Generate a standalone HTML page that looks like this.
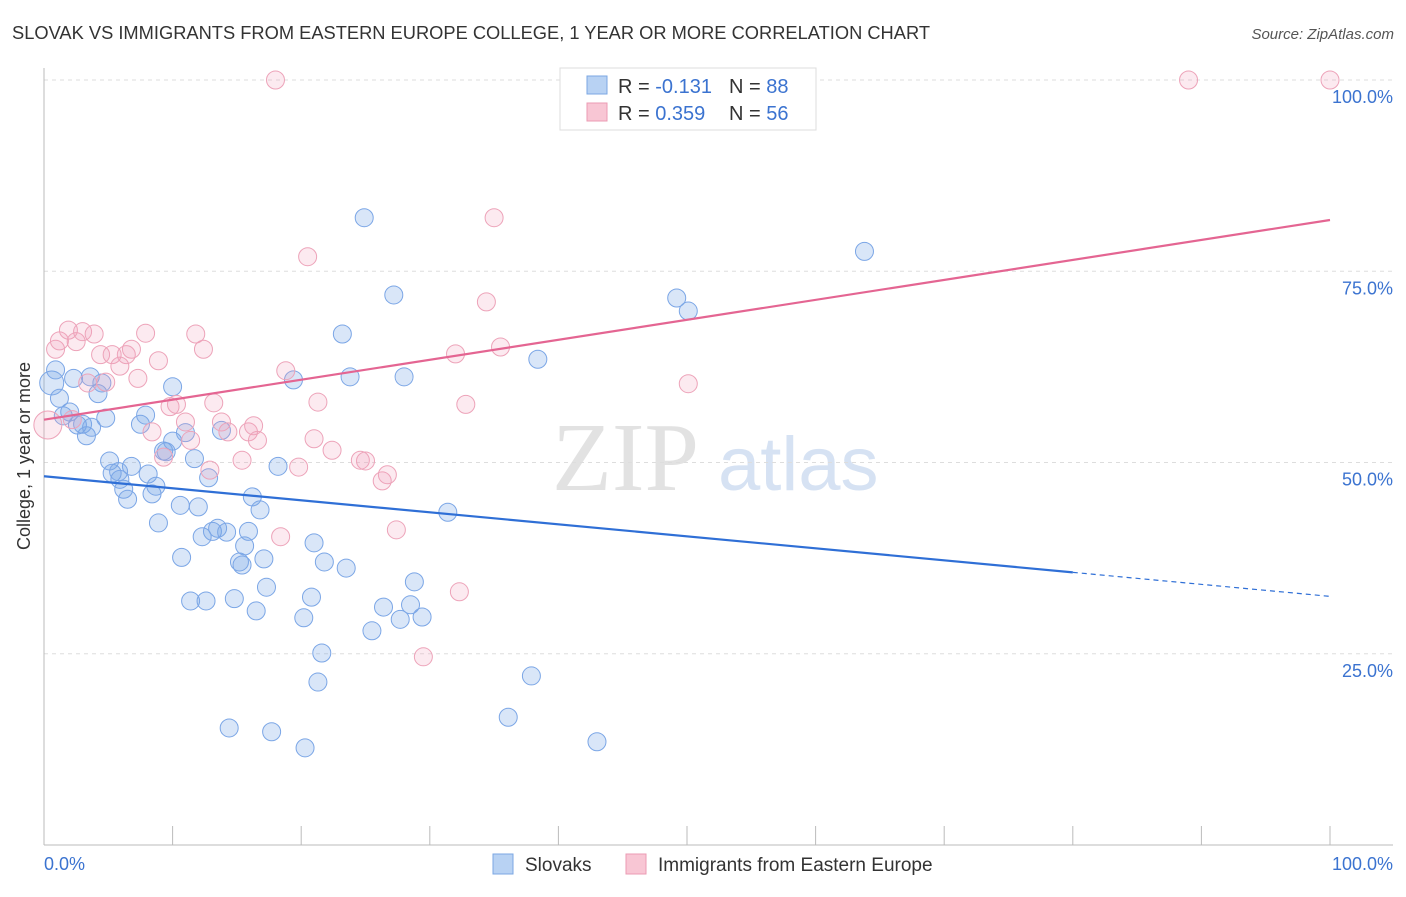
<!DOCTYPE html>
<html><head><meta charset="utf-8"><style>
body{margin:0;background:#fff;font-family:"Liberation Sans",sans-serif;}
</style></head><body>
<svg width="1406" height="892" xmlns="http://www.w3.org/2000/svg">
<text x="12" y="39" font-size="18" fill="#333" textLength="918" lengthAdjust="spacingAndGlyphs">SLOVAK VS IMMIGRANTS FROM EASTERN EUROPE COLLEGE, 1 YEAR OR MORE CORRELATION CHART</text>
<text x="1394" y="39" font-size="15" fill="#555" font-style="italic" text-anchor="end">Source: ZipAtlas.com</text>
<g>
<text x="552" y="490" font-size="98" fill="#e2e2e2" font-family="Liberation Serif,serif">ZIP</text>
<text x="718" y="490" font-size="76" fill="#d6e2f3">atlas</text>
</g>
<g id="grid"></g>
<g id="axes"></g>
<g id="marks"></g>
<text x="30" y="456" font-size="18" fill="#333" text-anchor="middle" transform="rotate(-90 30 456)">College, 1 year or more</text>
<g>
<rect x="560" y="68" width="256" height="62" fill="#fff" stroke="#ddd"/>
<rect x="587" y="76" width="20" height="18" fill="#b8d2f3" stroke="#7ba7e3"/>
<text x="618" y="93" font-size="20" fill="#333">R = <tspan fill="#3b73d0">-0.131</tspan></text>
<text x="729" y="93" font-size="20" fill="#333">N = <tspan fill="#3b73d0">88</tspan></text>
<rect x="587" y="103" width="20" height="18" fill="#f8c6d4" stroke="#eb9bb3"/>
<text x="618" y="120" font-size="20" fill="#333">R = <tspan fill="#3b73d0">0.359</tspan></text>
<text x="729" y="120" font-size="20" fill="#333">N = <tspan fill="#3b73d0">56</tspan></text>
</g>
<g>
<rect x="493" y="854" width="20" height="20" fill="#b8d2f3" stroke="#7ba7e3"/>
<text x="525" y="871" font-size="19" fill="#333">Slovaks</text>
<rect x="626" y="854" width="20" height="20" fill="#f8c6d4" stroke="#eb9bb3"/>
<text x="658" y="871" font-size="19" fill="#333">Immigrants from Eastern Europe</text>
</g>
</svg>
<script>
const blueX=[0.6,0.9,1.2,1.5,2.0,2.3,2.6,3.0,3.3,3.6,3.7,4.2,4.5,4.8,5.1,5.3,5.8,5.9,6.2,6.5,6.8,7.5,7.9,8.1,8.4,8.7,8.9,9.3,9.5,10.0,10.0,10.6,10.7,11.0,11.4,11.7,12.0,12.3,12.6,12.8,13.1,13.5,13.8,14.2,14.4,14.8,15.2,15.4,15.6,15.9,16.2,16.5,16.8,17.1,17.3,17.7,18.2,19.4,20.2,20.3,20.8,21.0,21.3,21.6,21.8,23.2,23.5,23.8,24.9,25.5,26.4,27.2,27.7,28.0,28.5,28.8,29.4,31.4,36.1,37.9,38.4,43.0,49.2,50.1,63.8];
const blueY=[60.4,62.1,58.4,56.1,56.6,61.0,54.9,55.0,53.5,61.2,54.6,59.0,60.4,55.8,50.2,48.6,48.8,47.8,46.5,45.2,49.5,55.0,56.2,48.5,45.9,46.9,42.1,51.5,51.4,52.8,59.9,44.4,37.6,53.9,31.9,50.5,44.2,40.3,31.9,48.0,41.0,41.4,54.2,40.9,15.3,32.2,37.0,36.6,39.1,41.0,45.5,30.6,43.8,37.4,33.7,14.8,49.5,60.8,29.7,12.7,32.4,39.5,21.3,25.1,37.0,66.8,36.2,61.2,82.0,28.0,31.1,71.9,29.5,61.2,31.4,34.4,29.8,43.5,16.7,22.1,63.5,13.5,71.5,69.8,77.6];
const pinkX=[0.3,0.9,1.2,1.9,2.2,2.5,3.0,3.4,3.9,4.4,4.8,5.3,5.9,6.4,6.8,7.3,7.9,8.4,8.9,9.3,9.8,10.3,11.0,11.4,11.8,12.4,12.9,13.2,13.8,14.3,15.4,15.9,16.3,16.6,18.0,18.4,18.8,19.8,20.5,21.0,21.3,22.4,24.6,25.0,26.3,26.7,27.4,29.5,32.0,32.3,32.8,34.4,35.0,35.5,50.1,89.0,100];
const pinkY=[54.9,64.8,65.9,67.3,55.6,65.8,67.1,60.4,66.8,64.1,60.5,64.1,62.6,64.1,64.8,61.0,66.9,54.0,63.3,50.7,57.3,57.6,55.3,52.9,66.8,64.8,49.0,57.8,55.3,54.0,50.3,54.0,54.8,52.9,100,40.3,62.0,49.4,76.9,53.1,57.9,51.6,50.3,50.2,47.6,48.4,41.2,24.6,64.2,33.1,57.6,71.0,82.0,65.1,60.3,100,100];
const blueTrend=[48.2,32.5];
const pinkTrend=[55.6,81.7];
const yTicks=[25,50,75,100];
const yTickLabels=["25.0%","50.0%","75.0%","100.0%"];
const xTicks=[0,10,20,30,40,50,60,70,80,90,100];
const NS="http://www.w3.org/2000/svg";
const sx=v=>44+v*12.86, sy=v=>845-v*7.65;
function mk(parent,tag,attrs){const e=document.createElementNS(NS,tag);for(const k in attrs)e.setAttribute(k,attrs[k]);document.getElementById(parent).appendChild(e);return e;}
yTicks.forEach((t,i)=>{
  const g=mk('grid','line',{x1:44,x2:1393,y1:sy(t),y2:sy(t),stroke:'#ddd','stroke-dasharray':'4 4'});
  
  
  const l=mk('axes','text',{x:1393,y:sy(t)+23,'font-size':18,fill:'#3b73d0','text-anchor':'end'});
  l.textContent=yTickLabels[i];
  
  
});
const ya=mk('axes','line',{x1:44,x2:44,y1:68,y2:845,stroke:'#bbb'});


const xa=mk('axes','line',{x1:44,x2:1393,y1:845,y2:845,stroke:'#bbb'});


xTicks.forEach(t=>{
  const k=mk('axes','line',{x1:sx(t),x2:sx(t),y1:826,y2:845,stroke:'#bbb'});
  
  
});
const x0=mk('axes','text',{x:44,y:870,'font-size':18,fill:'#3b73d0'});x0.textContent='0.0%';


const x1=mk('axes','text',{x:1393,y:870,'font-size':18,fill:'#3b73d0','text-anchor':'end'});x1.textContent='100.0%';


blueX.forEach((x,i)=>{
  const c=mk('marks','circle',{cx:sx(x),cy:sy(blueY[i]),r:i===0?12:9,fill:'rgba(120,165,230,0.28)',stroke:'#7ba6e6','stroke-width':1});
  
  
});
pinkX.forEach((x,i)=>{
  const c=mk('marks','circle',{cx:sx(x),cy:sy(pinkY[i]),r:i===0?14:9,fill:'rgba(242,160,188,0.22)',stroke:'#eda3b9','stroke-width':1});
  
  
});
const bt=v=>blueTrend[0]+(blueTrend[1]-blueTrend[0])*v/100;
const b1=mk('marks','line',{x1:sx(0),y1:sy(bt(0)),x2:sx(80),y2:sy(bt(80)),stroke:'#2f6fd6','stroke-width':2.2});


const b2=mk('marks','line',{x1:sx(80),y1:sy(bt(80)),x2:sx(100),y2:sy(bt(100)),stroke:'#2f6fd6','stroke-width':1.2,'stroke-dasharray':'5 4'});


const p1=mk('marks','line',{x1:sx(0),y1:sy(pinkTrend[0]),x2:sx(100),y2:sy(pinkTrend[1]),stroke:'#e46592','stroke-width':2.2});


</script>
</body></html>
